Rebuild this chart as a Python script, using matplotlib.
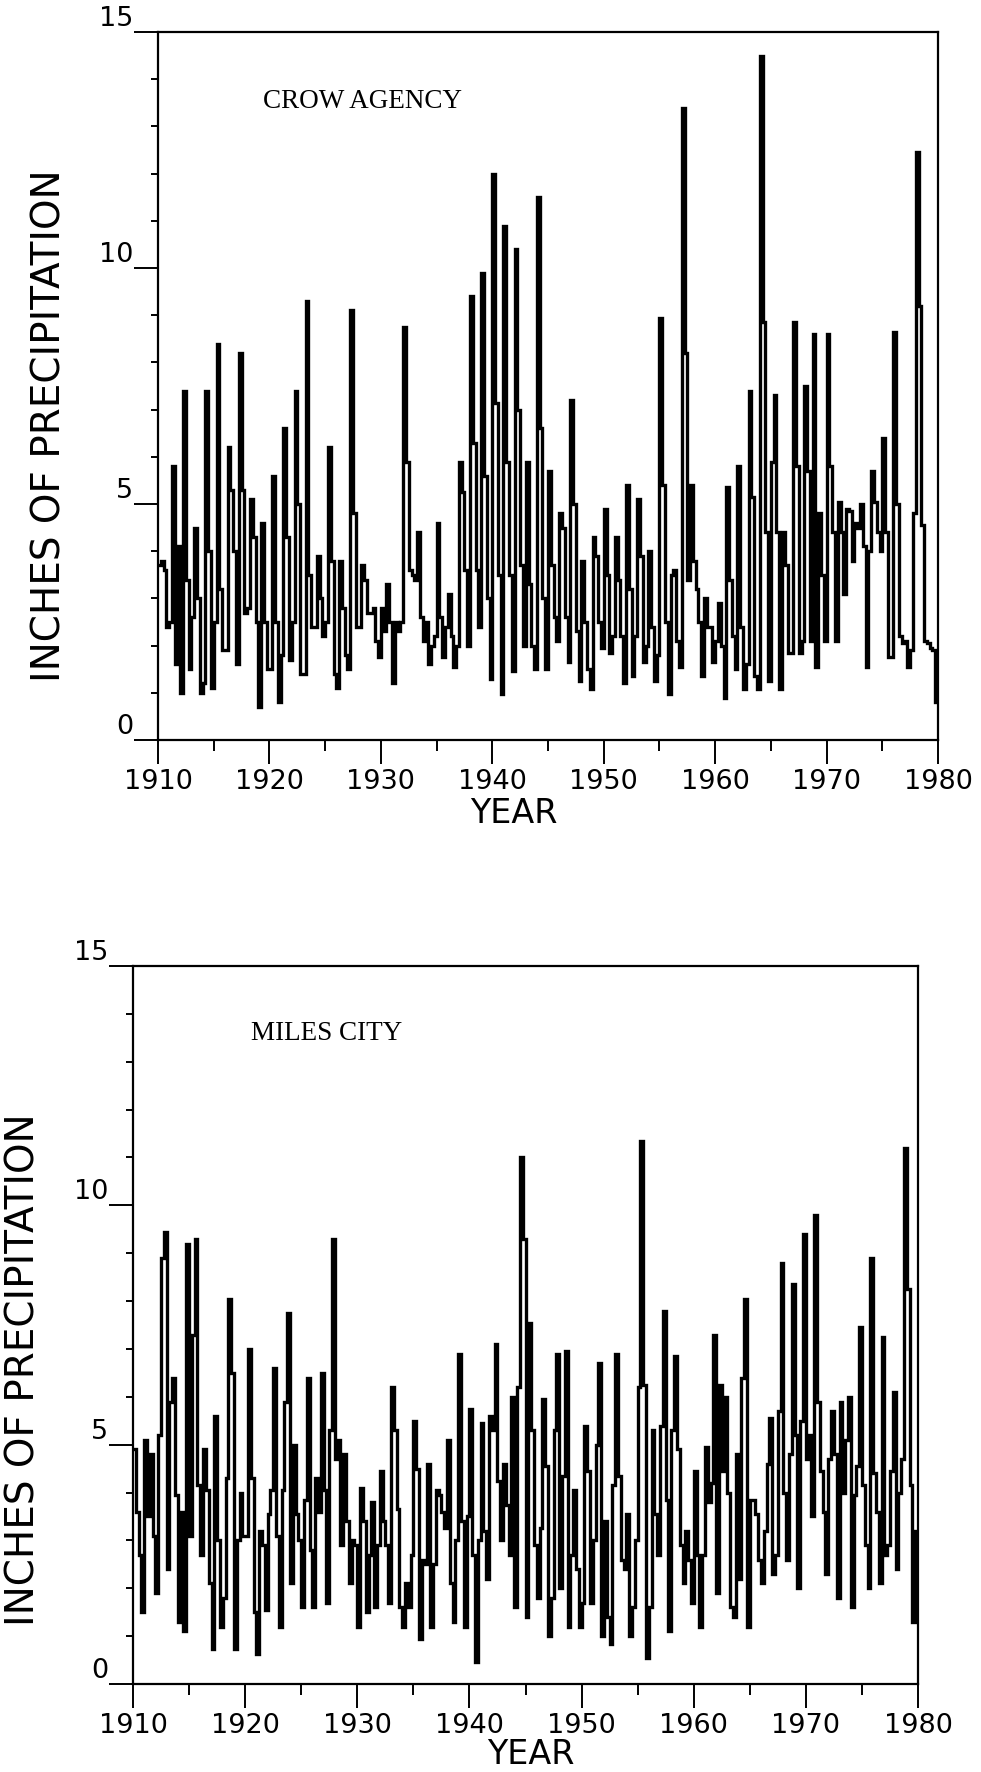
import numpy as np
import matplotlib
matplotlib.use("Agg")
import matplotlib.pyplot as plt
from matplotlib import font_manager
from matplotlib.ticker import MultipleLocator

# ---------------- data (seasonal precipitation, inches; 4 values per year) ----
years = list(range(1910, 1980))

crow_agency = [
    [3.7, 3.8, 3.6, 2.4], [2.5, 5.8, 1.6, 4.1], [1.0, 7.4, 3.4, 1.5], [2.6, 4.5, 3.0, 1.0],
    [1.2, 7.4, 4.0, 1.1], [2.5, 8.4, 3.2, 1.9], [1.9, 6.2, 5.3, 4.0], [1.6, 8.2, 5.3, 2.7],
    [2.8, 5.1, 4.3, 2.5], [0.7, 4.6, 2.5, 1.5], [1.5, 5.6, 2.5, 0.8], [1.8, 6.6, 4.3, 1.7],
    [2.5, 7.4, 5.0, 1.4], [1.4, 9.3, 3.5, 2.4], [2.4, 3.9, 3.0, 2.2], [2.5, 6.2, 3.8, 1.4],
    [1.1, 3.8, 2.8, 1.8], [1.5, 9.1, 4.8, 2.4], [2.4, 3.7, 3.4, 2.7], [2.7, 2.8, 2.1, 1.75],
    [2.8, 2.3, 3.3, 2.5], [1.2, 2.5, 2.3, 2.5], [8.75, 5.9, 3.6, 3.5], [3.4, 4.4, 2.6, 2.1],
    [2.5, 1.6, 2.0, 2.2], [4.6, 2.6, 1.75, 2.4], [3.1, 2.2, 1.55, 2.0], [5.9, 5.25, 3.6, 2.0],
    [9.4, 6.3, 3.6, 2.4], [9.9, 5.6, 3.0, 1.3], [12.0, 7.15, 3.5, 0.97], [10.9, 5.9, 3.5, 1.46],
    [10.4, 7.0, 3.7, 2.0], [5.9, 3.3, 2.0, 1.5], [11.5, 6.6, 3.0, 1.5], [5.7, 3.7, 2.6, 2.1],
    [4.8, 4.5, 2.6, 1.65], [7.2, 5.0, 2.3, 1.26], [3.8, 2.5, 1.5, 1.07], [4.3, 3.9, 2.5, 1.95],
    [4.9, 3.5, 1.85, 2.2], [4.3, 3.4, 2.2, 1.2], [5.4, 3.2, 1.36, 2.2], [5.1, 3.9, 1.65, 2.0],
    [4.0, 2.4, 1.26, 1.8], [8.95, 5.4, 2.5, 0.97], [3.5, 3.6, 2.1, 1.55], [13.4, 8.2, 3.4, 5.4],
    [3.8, 3.2, 2.5, 1.36], [3.0, 2.4, 2.4, 1.65], [2.1, 2.9, 2.0, 0.88], [5.35, 3.4, 2.2, 1.5],
    [5.8, 2.4, 1.07, 1.6], [7.4, 5.15, 1.36, 1.07], [14.5, 8.85, 4.4, 1.26], [5.9, 7.3, 4.4, 1.07],
    [4.4, 3.7, 1.85, 1.85], [8.85, 5.8, 1.85, 2.1], [7.5, 5.7, 2.1, 8.6], [1.55, 4.8, 3.5, 2.1],
    [8.6, 5.8, 4.4, 2.1], [5.05, 4.4, 3.1, 4.9], [4.85, 3.8, 4.6, 4.5], [5.0, 4.1, 1.55, 4.0],
    [5.7, 5.05, 4.4, 4.0], [6.4, 4.4, 1.75, 1.75], [8.65, 5.0, 2.2, 2.05], [2.1, 1.55, 1.9, 4.8],
    [12.45, 9.2, 4.55, 2.1], [2.05, 1.95, 1.9, 0.8],
]

miles_city = [
    [4.9, 3.6, 2.7, 1.5], [5.1, 3.5, 4.8, 3.1], [1.9, 5.2, 8.9, 9.45], [2.4, 5.9, 6.4, 3.95],
    [1.3, 3.6, 1.1, 9.2], [3.1, 7.3, 9.3, 4.15], [2.7, 4.9, 4.05, 2.1], [0.73, 5.6, 3.0, 1.2],
    [1.8, 4.3, 8.05, 6.5], [0.73, 3.0, 4.0, 3.1], [3.1, 7.0, 4.3, 1.5], [0.63, 3.2, 2.9, 1.55],
    [3.55, 4.05, 6.6, 3.1], [1.2, 4.05, 5.9, 7.75], [2.1, 5.0, 3.55, 3.0], [1.6, 3.85, 6.4, 2.8],
    [1.6, 4.3, 3.6, 6.5], [4.05, 1.7, 5.3, 9.3], [4.7, 5.1, 2.9, 4.8], [3.4, 2.1, 3.0, 2.9],
    [1.2, 4.1, 3.4, 1.5], [2.7, 3.8, 1.6, 2.9], [4.45, 3.4, 2.9, 1.7], [6.2, 5.3, 3.65, 1.6],
    [1.2, 2.1, 1.6, 2.7], [5.5, 4.5, 0.93, 2.6], [2.5, 4.6, 1.2, 2.5], [4.05, 3.95, 3.6, 3.25],
    [5.1, 2.1, 1.3, 3.0], [6.9, 3.4, 1.2, 3.5], [5.75, 2.7, 0.45, 3.0], [5.45, 3.2, 2.2, 5.6],
    [5.3, 7.1, 4.25, 3.0], [4.6, 3.75, 2.7, 6.0], [1.6, 6.2, 11.0, 9.3], [1.4, 7.55, 5.3, 2.9],
    [1.8, 3.25, 5.95, 4.55], [1.0, 1.8, 5.3, 6.9], [2.0, 4.35, 6.95, 1.2], [2.7, 4.05, 2.4, 1.2],
    [1.7, 5.4, 4.45, 1.7], [3.0, 5.0, 6.7, 1.0], [3.4, 1.4, 0.83, 4.15], [6.9, 4.35, 2.6, 2.4],
    [3.55, 1.0, 1.6, 3.0], [6.2, 11.35, 6.25, 0.54], [1.6, 5.3, 3.55, 2.7], [5.4, 7.8, 3.85, 1.1],
    [5.3, 6.85, 4.9, 2.9], [2.1, 3.2, 2.6, 1.7], [4.45, 2.7, 1.2, 2.7], [4.95, 3.8, 4.2, 7.3],
    [1.9, 6.25, 4.45, 6.0], [4.0, 1.6, 1.4, 4.8], [2.2, 6.4, 8.05, 1.2], [3.85, 3.85, 3.55, 2.6],
    [2.1, 3.2, 4.6, 5.55], [2.3, 2.7, 5.7, 8.8], [4.0, 2.6, 4.8, 8.35], [5.2, 2.0, 5.5, 9.4],
    [4.7, 5.2, 3.5, 9.8], [5.9, 4.45, 3.6, 2.3], [4.7, 5.7, 4.8, 1.8], [5.9, 4.0, 5.1, 6.0],
    [1.6, 3.95, 4.55, 7.45], [4.15, 2.9, 2.0, 8.9], [4.4, 3.6, 2.1, 7.25], [2.7, 2.9, 4.45, 6.1],
    [2.4, 4.0, 4.7, 11.2], [8.25, 4.15, 1.3, 3.2],
]

station_names = ["CROW AGENCY", "MILES CITY"]
x_ticks = [1910, 1920, 1930, 1940, 1950, 1960, 1970, 1980]
x_tick_labels = ["1910", "1920", "1930", "1940", "1950", "1960", "1970", "1980"]
y_ticks = [0, 5, 10, 15]
y_tick_labels = ["0", "5", "10", "15"]
x_label = "YEAR"
y_label = "INCHES OF PRECIPITATION"

# ---------------- fonts ----------------
installed = {f.name for f in font_manager.fontManager.ttflist}
if "Liberation Sans Narrow" in installed:
    plot_font = dict(family="Liberation Sans Narrow")
else:
    plot_font = dict(family="DejaVu Sans")

W, H = 981, 1772
fig = plt.figure(figsize=(W / 100, H / 100), dpi=100)


def rect(l, t, r, b):
    return [l / W, 1 - b / H, (r - l) / W, (b - t) / H]


panels = [
    dict(data=crow_agency, box=(158, 32, 938, 740), title_xy=(263, 102),
         ylab_xy=(50, 426), xlab_xy=(514, 814)),
    dict(data=miles_city, box=(133, 966, 918, 1684), title_xy=(251, 1034),
         ylab_xy=(24, 1370), xlab_xy=(531, 1754)),
]

for name, p in zip(station_names, panels):
    ax = fig.add_axes(rect(*p["box"]))
    vals = np.array(p["data"], dtype=float).ravel()
    edges = years[0] + np.arange(len(vals) + 1) / 4.0
    ax.stairs(vals, edges, baseline=None, color="black", lw=2.4)

    ax.set_xlim(1910, 1980)
    ax.set_ylim(0, 15)
    ax.set_xticks(x_ticks)
    ax.set_xticklabels(x_tick_labels, fontsize=19.5, **plot_font)
    ax.xaxis.set_minor_locator(MultipleLocator(5))
    ax.set_yticks(y_ticks)
    ax.set_yticklabels(y_tick_labels, fontsize=19.5, **plot_font)
    ax.yaxis.set_minor_locator(MultipleLocator(1))
    for lab in ax.get_yticklabels():
        lab.set_verticalalignment("bottom")
    ax.tick_params(axis="x", which="major", direction="out", length=17, width=1.4, pad=4)
    ax.tick_params(axis="x", which="minor", direction="out", length=8, width=1.4)
    ax.tick_params(axis="y", which="major", direction="out", length=17, width=1.4, pad=1)
    ax.tick_params(axis="y", which="minor", direction="out", length=5, width=1.4)
    for s in ax.spines.values():
        s.set_linewidth(1.6)

    tx, ty = p["title_xy"]
    fig.text(tx / W, 1 - ty / H, name, family="Liberation Serif", fontsize=19.5,
             ha="left", va="center")
    lx, ly = p["ylab_xy"]
    fig.text(lx / W, 1 - ly / H, y_label, rotation=90, fontsize=28,
             ha="center", va="center", **plot_font)
    xx, xy = p["xlab_xy"]
    fig.text(xx / W, 1 - xy / H, x_label, fontsize=24, ha="center", va="center",
             **plot_font)

fig.savefig("out.png", dpi=100, facecolor="white")
